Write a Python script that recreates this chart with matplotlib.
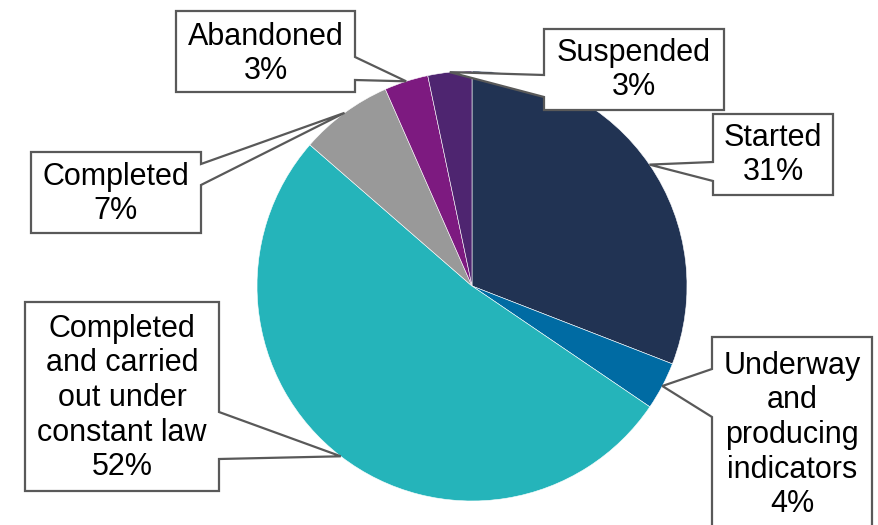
import matplotlib
matplotlib.use("Agg")
import matplotlib.pyplot as plt
from matplotlib.patches import Polygon
import numpy as np

plt.rcParams['font.family'] = ['Liberation Sans', 'DejaVu Sans']

# Data
categories = ["Started", "Underway\nand\nproducing\nindicators",
              "Completed\nand carried\nout under\nconstant law",
              "Completed", "Abandoned", "Suspended"]
values = [30.9, 3.6, 51.9, 7.0, 3.3, 3.3]
colors = ["#213353", "#006BA3", "#25B4BA", "#999999", "#7D1A80", "#4E2570"]

W, H = 879, 525
fig = plt.figure(figsize=(W / 100, H / 100), dpi=100)
ax = fig.add_axes([0, 0, 1, 1])

cx, cy, R = 472, H - 286, 215
wedges, _ = ax.pie(values, colors=colors, startangle=90, counterclock=False,
                   center=(cx, cy), radius=R, frame=True,
                   wedgeprops=dict(edgecolor='white', linewidth=0.4))
ax.set_xlim(0, W)
ax.set_ylim(0, H)
ax.set_aspect('equal')
ax.axis('off')

# Callout layout (image pixel coords: x0, y0, x1, y1, side, base1, base2, text_y)
layout = [
    (713, 114, 833, 195, 'left', 162, 181, 155),
    (712, 337, 872, 560, 'left', 369, 417, 435),
    (25, 302, 219, 491, 'right', 412, 459, 398),
    (31, 152, 201, 233, 'right', 164, 185, 194),
    (176, 11, 355, 92, 'right', 57, 80, 54),
    (544, 29, 724, 110, 'left', 75, 97, 70),
]

total = sum(values)
for w, lab, v, (x0, y0, x1, y1, side, b1, b2, ty) in zip(wedges, categories, values, layout):
    mid = np.deg2rad((w.theta1 + w.theta2) / 2)
    tx = cx + R * np.cos(mid)
    tyy = cy + R * np.sin(mid)
    Y = lambda y: H - y
    if side == 'left':
        pts = [(x0, Y(y0)), (x1, Y(y0)), (x1, Y(y1)), (x0, Y(y1)),
               (x0, Y(b2)), (tx, tyy), (x0, Y(b1))]
    else:
        pts = [(x0, Y(y0)), (x1, Y(y0)), (x1, Y(b1)), (tx, tyy),
               (x1, Y(b2)), (x1, Y(y1)), (x0, Y(y1))]
    poly = Polygon(pts, closed=True, facecolor='white', edgecolor='#595959',
                   linewidth=1.6, joinstyle='miter', zorder=5, clip_on=False)
    ax.add_patch(poly)
    pct = round(v / total * 100)
    ax.text((x0 + x1) / 2, Y(ty), f"{lab}\n{pct}%", ha='center', va='center',
            fontsize=22, color='black', linespacing=1.2, zorder=6)

fig.savefig("out.png", dpi=100)
